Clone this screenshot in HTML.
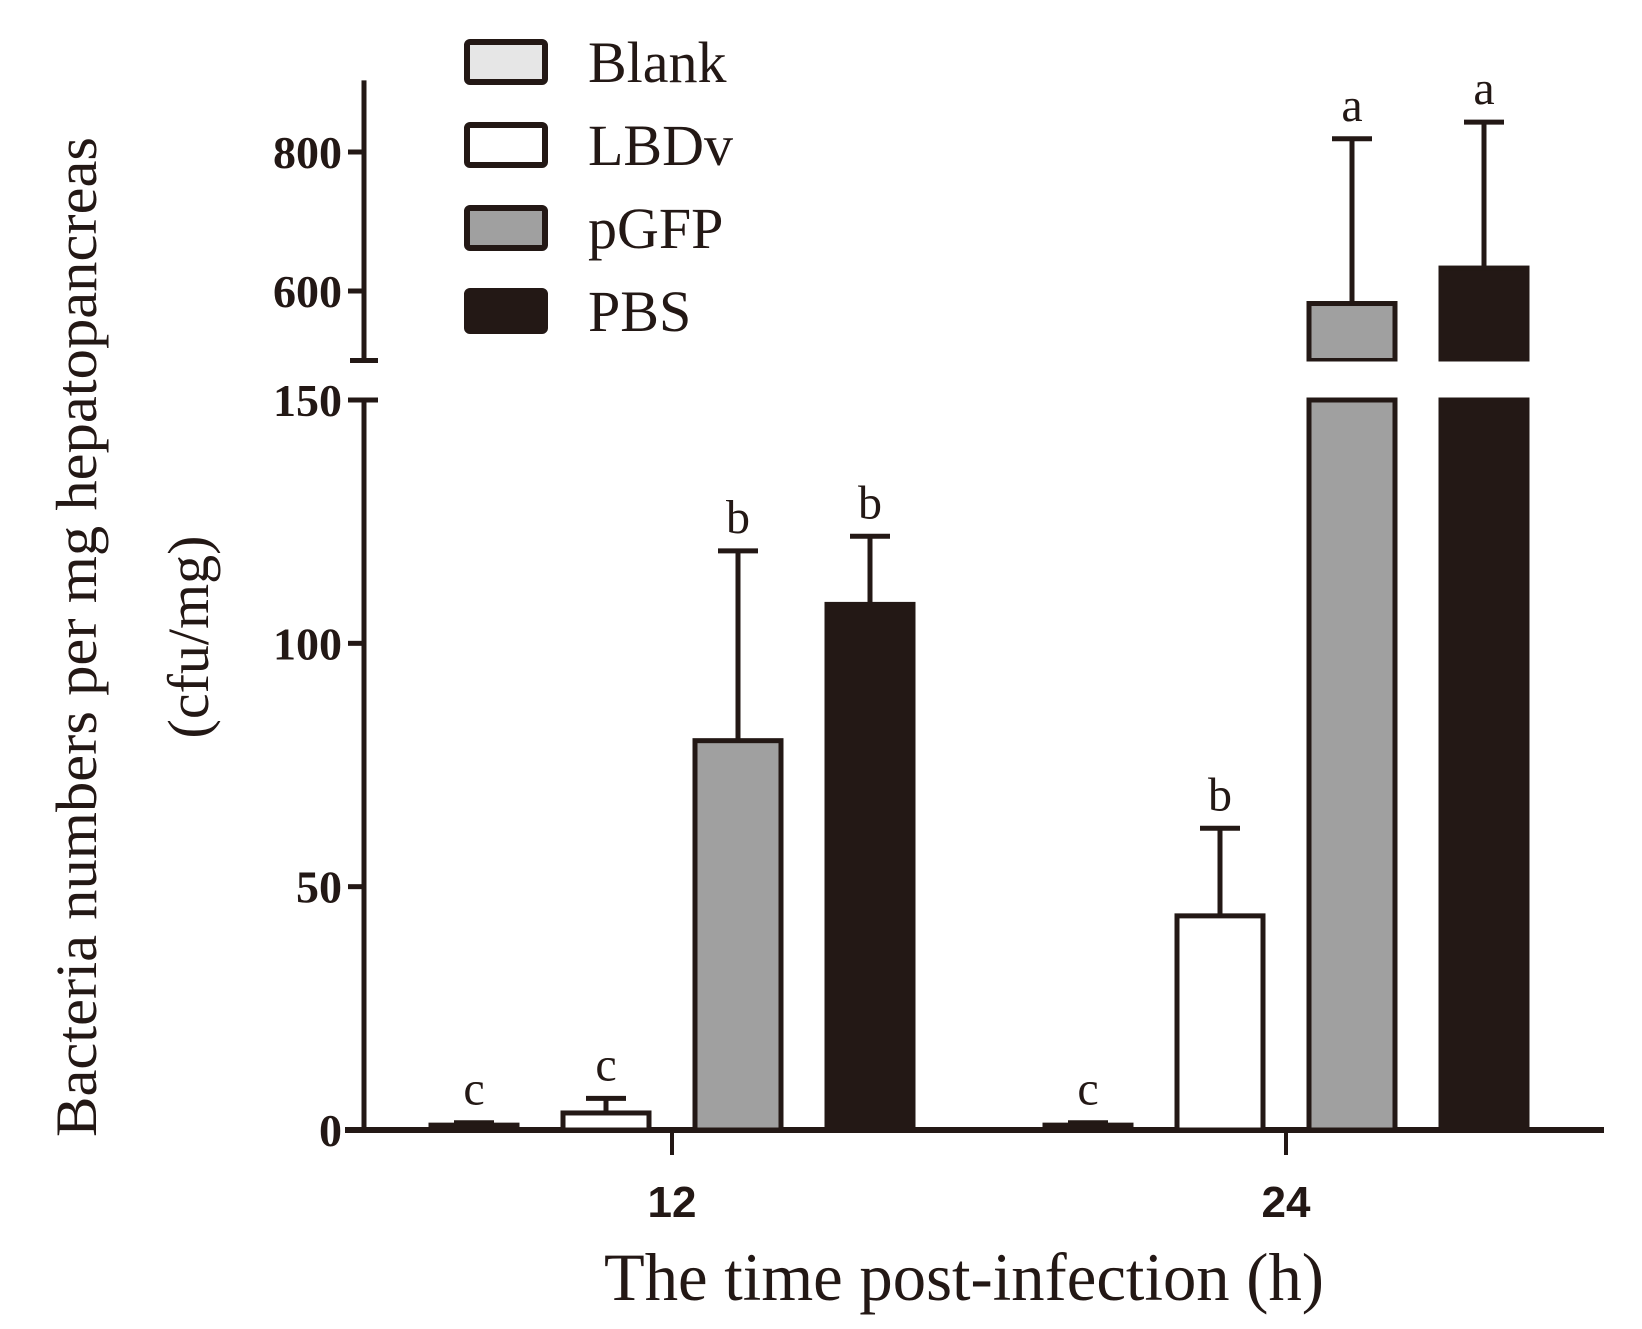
<!DOCTYPE html>
<html><head><meta charset="utf-8"><style>
html,body{margin:0;padding:0;background:#fff;width:1642px;height:1329px;overflow:hidden}
svg{display:block}
</style></head><body>
<svg id="chart" width="1642" height="1329" viewBox="0 0 1642 1329" xmlns="http://www.w3.org/2000/svg" font-family="Liberation Serif, serif"></svg>
<script>
const groups = ["12", "24"];
const seriesNames = ["Blank", "LBDv", "pGFP", "PBS"];
const fills = ["#e6e6e6", "#ffffff", "#a0a0a0", "#231815"];
const values12 = [1, 3.5, 80, 108];
const values24 = [1, 44, 582, 633];
const errors12 = [0.5, 3, 39, 14];
const errors24 = [0.5, 18, 237, 210];
const letters12 = ["c", "c", "b", "b"];
const letters24 = ["c", "b", "a", "a"];
const lowerTicks = [0, 50, 100, 150];
const upperTicks = [600, 800];

const NS = "http://www.w3.org/2000/svg";
const svg = document.getElementById("chart");
const INK = "#231815";
function mk(tag, attrs, parent) {
  const e = document.createElementNS(NS, tag);
  for (const k in attrs) e.setAttribute(k, attrs[k]);
  (parent || svg).appendChild(e);
  return e;
}
const Y0 = 1130, LOWMAX = 150, YLOWTOP = 400;
const Y600 = 291, Y800 = 152, UPMIN = 500, UPMAX = 903;
function y(v) {
  if (v <= LOWMAX) return Y0 - (v / LOWMAX) * (Y0 - YLOWTOP);
  return Y600 - (v - 600) * (Y600 - Y800) / 200;
}
const AX = 364;
const groupCenter = [672, 1286];
const barStep = 132, barW = 86;
function x(g, s) { return groupCenter[g] + (s - 1.5) * barStep; }

let ax = mk("g", {});


mk("line", {x1: AX, y1: y(UPMAX), x2: AX, y2: y(UPMIN), stroke: INK, "stroke-width": 5}, ax);
mk("line", {x1: AX - 14, y1: y(UPMIN), x2: AX + 14, y2: y(UPMIN), stroke: INK, "stroke-width": 5}, ax);
mk("line", {x1: AX, y1: y(LOWMAX), x2: AX, y2: Y0, stroke: INK, "stroke-width": 5}, ax);
mk("line", {x1: AX - 14, y1: y(LOWMAX), x2: AX + 14, y2: y(LOWMAX), stroke: INK, "stroke-width": 5}, ax);
[...upperTicks, ...lowerTicks].forEach(t => {
  mk("line", {x1: AX - 16, y1: y(t), x2: AX, y2: y(t), stroke: INK, "stroke-width": 5}, ax);
  const tx = mk("text", {x: AX - 22, y: y(t) + 16, "text-anchor": "end", "font-size": 46, "font-weight": "bold", fill: INK}, ax);
  
  
  tx.textContent = t;
});
let xa = mk("g", {});


mk("line", {x1: 345, y1: Y0, x2: 1604, y2: Y0, stroke: INK, "stroke-width": 6}, xa);
groups.forEach((g, i) => {
  const cx = (x(i, 0) + x(i, 3)) / 2;
  mk("line", {x1: cx, y1: Y0, x2: cx, y2: Y0 + 25, stroke: INK, "stroke-width": 4}, xa);
  const t = mk("text", {x: cx, y: Y0 + 87, "text-anchor": "middle", "font-size": 44, "font-weight": "bold", "font-family": "Liberation Sans, sans-serif", fill: INK}, xa);
  
  
  t.textContent = g;
});

const vals = [values12, values24], errs = [errors12, errors24], lets = [letters12, letters24];
groups.forEach((g, gi) => {
  seriesNames.forEach((s, si) => {
    const v = vals[gi][si], e = errs[gi][si];
    const bx = x(gi, si) - barW / 2;
    const grp = mk("g", {});
    
    
    const top = v + e;
    if (e > 0) {
      const cx = x(gi, si);
      mk("line", {x1: cx, y1: y(v), x2: cx, y2: y(top), stroke: INK, "stroke-width": 5}, grp);
      mk("line", {x1: cx - 20, y1: y(top), x2: cx + 20, y2: y(top), stroke: INK, "stroke-width": 5}, grp);
    }
    if (v <= LOWMAX) {
      mk("rect", {x: bx, y: y(v), width: barW, height: Y0 - y(v), fill: fills[si], stroke: INK, "stroke-width": 5}, grp);
    } else {
      mk("rect", {x: bx, y: y(LOWMAX), width: barW, height: Y0 - y(LOWMAX), fill: fills[si], stroke: INK, "stroke-width": 5}, grp);
      mk("rect", {x: bx, y: y(v), width: barW, height: y(UPMIN) - y(v), fill: fills[si], stroke: INK, "stroke-width": 5}, grp);
      mk("rect", {x: bx - 4, y: y(UPMIN) + 1, width: barW + 8, height: y(LOWMAX) - y(UPMIN) - 4, fill: "#fff"}, grp);
    }
    const lt = mk("text", {x: x(gi, si), y: y(top) - 18, "text-anchor": "middle", "font-size": 48, fill: INK}, grp);
    
    
    lt.textContent = lets[gi][si];
  });
});

const lg = mk("g", {});


seriesNames.forEach((s, i) => {
  const yy = 42 + i * 83;
  const eg = mk("g", {}, lg);
  
  
  mk("rect", {x: 467, y: yy, width: 78, height: 40, rx: 3, fill: fills[i], stroke: INK, "stroke-width": 6}, eg);
  const t = mk("text", {x: 588, y: yy + 40, "font-size": 58, fill: INK}, eg);
  t.textContent = s;
});

const yt = mk("text", {transform: "translate(96,637) rotate(-90)", "text-anchor": "middle", "font-size": 58, fill: INK, textLength: 1000, lengthAdjust: "spacingAndGlyphs"});


yt.textContent = "Bacteria numbers per mg hepatopancreas";
const yt2 = mk("text", {transform: "translate(208,637) rotate(-90)", "text-anchor": "middle", "font-size": 58, fill: INK});


yt2.textContent = "(cfu/mg)";
const xt = mk("text", {x: 964, y: 1300, "text-anchor": "middle", "font-size": 68, fill: INK, textLength: 720, lengthAdjust: "spacingAndGlyphs"});


xt.textContent = "The time post-infection (h)";
</script>
</body></html>
